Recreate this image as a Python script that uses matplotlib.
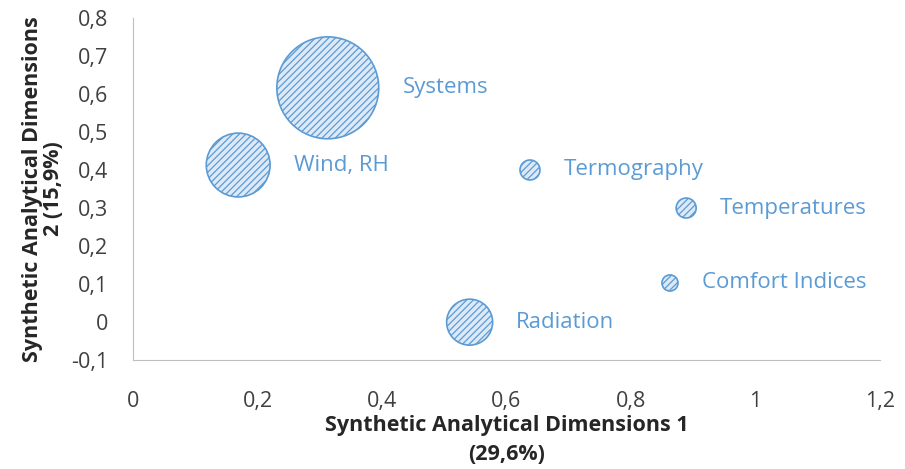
import numpy as np
import matplotlib
matplotlib.use('Agg')
import matplotlib.pyplot as plt

# data
labels = ['Systems', 'Wind, RH', 'Termography', 'Temperatures', 'Comfort Indices', 'Radiation']
dim1 = [0.313, 0.169, 0.638, 0.889, 0.863, 0.541]
dim2 = [0.616, 0.413, 0.400, 0.300, 0.103, 0.000]
bubble = [26.0, 10.2, 1.0, 1.0, 0.65, 5.3]

xticks = [0, 0.2, 0.4, 0.6, 0.8, 1.0, 1.2]
yticks = [-0.1, 0, 0.1, 0.2, 0.3, 0.4, 0.5, 0.6, 0.7, 0.8]

plt.rcParams['font.family'] = ['Open Sans', 'DejaVu Sans']
plt.rcParams['hatch.linewidth'] = 0.9
blue = '#5b9bd5'

fig = plt.figure(figsize=(9.05, 4.69), dpi=100)
ax = fig.add_axes([0.147, 0.232, 0.825, 0.73])

s = np.array(bubble) * 207
ax.scatter(dim1, dim2, s=s, facecolor='#dde9f7', edgecolor=blue,
           hatch='/////', linewidth=1.2, zorder=3)

for lab, x, y, si in zip(labels, dim1, dim2, s):
    off = np.sqrt(si) / 2 + 17
    ax.annotate(lab, (x, y), xytext=(off, 0), textcoords='offset points',
                va='center', ha='left', color=blue, fontsize=16)

ax.set_xlim(0, 1.2)
ax.set_ylim(-0.1, 0.8)
ax.set_xticks(xticks)
ax.set_yticks(yticks)
fmt = lambda v: ('%g' % v).replace('.', ',')
ax.set_xticklabels([fmt(v) for v in xticks])
ax.set_yticklabels([fmt(v) for v in yticks])
ax.tick_params(length=0, labelsize=15.5, colors='#404040')
ax.tick_params(axis='y', pad=18)
ax.tick_params(axis='x', pad=22)

for sp in ['top', 'right']:
    ax.spines[sp].set_visible(False)
for sp in ['left', 'bottom']:
    ax.spines[sp].set_color('#bfbfbf')

ax.set_xlabel('Synthetic Analytical Dimensions 1\n(29,6%)', fontsize=15.5,
              fontweight='bold', color='#262626', labelpad=2, linespacing=1.55)
ax.set_ylabel('Synthetic Analytical Dimensions\n2 (15,9%)', fontsize=15.5,
              fontweight='bold', color='#262626', labelpad=5, linespacing=1.0)

fig.savefig('out.png', dpi=100)
